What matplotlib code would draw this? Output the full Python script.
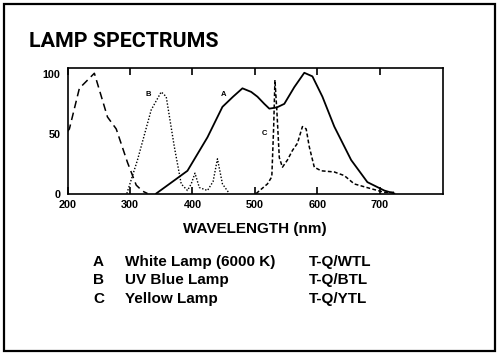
import matplotlib
matplotlib.use("Agg")
import matplotlib.pyplot as plt
from matplotlib.patches import Rectangle

# ---- data ----
uv_wl = [200, 203, 219, 243, 264, 278, 296, 310, 320, 328]
uv_val = [52, 54, 88, 100.6, 64, 54, 26, 7, 2, 0]

b_wl = [295, 312, 334, 350, 358, 371, 382, 392, 398, 404, 411, 424, 433, 440, 448, 459]
b_val = [0, 28, 70, 85, 81, 39, 8, 2.5, 8, 17, 5, 2.5, 10, 29, 8, 0]

a_wl = [342, 371, 392, 424, 448, 465, 480, 494, 504, 515, 523, 535, 547, 563, 579, 592, 608, 627, 654, 680, 707, 723]
a_val = [0, 11, 19, 47, 72.5, 81, 88, 85, 81, 75, 71, 72, 75, 89, 101, 98, 81, 56, 28, 9.5, 2.5, 0]

c_wl = [502, 520, 527, 530, 532, 535, 539, 544, 552, 560, 568, 576, 582, 587, 595, 606, 627, 643, 659, 686, 707, 726]
c_val = [0, 8, 14, 56, 95, 70, 30, 22, 28, 36, 42, 56, 54, 39, 22, 19, 18, 15, 8, 4, 1, 1]

xticks = [200, 300, 400, 500, 600, 700]
yticks = [0, 50, 100]

legend_keys = ["A", "B", "C"]
legend_names = ["White Lamp (6000 K)", "UV Blue Lamp", "Yellow Lamp"]
legend_codes = ["T-Q/WTL", "T-Q/BTL", "T-Q/YTL"]

plt.rcParams['font.family'] = ['Liberation Sans', 'DejaVu Sans']

W, H = 500, 355
fig = plt.figure(figsize=(W / 100, H / 100), dpi=100)
fig.patch.set_facecolor("white")

# outer frame
fig.patches.append(Rectangle((4 / W, 1 - 351 / H), (495 - 4) / W, (351 - 4) / H,
                             transform=fig.transFigure, fill=False,
                             edgecolor="black", linewidth=1.6, figure=fig))

fig.text(29 / W, 1 - 47 / H, "LAMP SPECTRUMS",
         family=['Roboto', 'Liberation Sans'],
         fontweight="bold", fontsize=15.4, va="baseline", ha="left")

ax = fig.add_axes([67.5 / W, 1 - 193.5 / H, (443 - 67.5) / W, (193.5 - 68) / H])
ax.plot(uv_wl, uv_val, color="black", lw=1.1, ls=(0, (5, 3)))
ax.plot(b_wl, b_val, color="black", lw=1.0, ls=(0, (1, 1.3)))
ax.plot(a_wl, a_val, color="black", lw=1.3, ls="-")
ax.plot(c_wl, c_val, color="black", lw=1.1, ls=(0, (2.5, 1.5)))

ax.text(449, 83, "A", fontsize=5.5, fontweight="bold", ha="center", va="center")
ax.text(330, 83, "B", fontsize=5.5, fontweight="bold", ha="center", va="center")
ax.text(516, 50, "C", fontsize=5.5, fontweight="bold", ha="center", va="center")

ax.set_xlim(200, 801)
ax.set_ylim(0, 105)
ax.set_xticks(xticks)
ax.set_xticklabels([str(t) for t in xticks], fontweight="bold", fontsize=7.8)
ax.set_yticks(yticks)
ax.set_yticklabels([str(t) for t in yticks], fontweight="bold", fontsize=7.8)
ax.tick_params(axis="x", direction="in", top=True, bottom=True, length=5, width=1.2, pad=5)
ax.tick_params(axis="y", length=0, pad=5)
for s in ax.spines.values():
    s.set_linewidth(1.2)
ax.set_xlabel("WAVELENGTH (nm)", fontweight="bold", fontsize=11, labelpad=8)

rows_y = [262, 280, 299]
for k, n, c, y in zip(legend_keys, legend_names, legend_codes, rows_y):
    fy = 1 - y / H
    fig.text(93 / W, fy, k, fontweight="bold", fontsize=11, va="center", ha="left")
    fig.text(125 / W, fy, n, fontweight="bold", fontsize=11, va="center", ha="left")
    fig.text(309 / W, fy, c, fontweight="bold", fontsize=11, va="center", ha="left")

fig.savefig("out.png", dpi=100)
